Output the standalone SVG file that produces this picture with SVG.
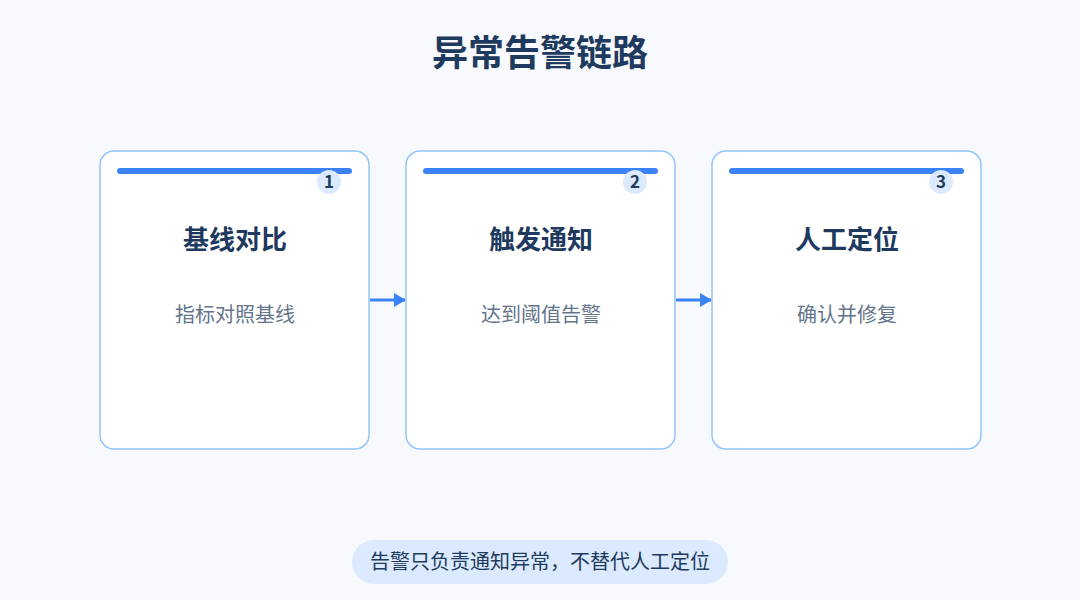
<svg xmlns="http://www.w3.org/2000/svg" width="1080" height="600" viewBox="0 0 1080 600">
<style>
text{font-family:"Noto Sans CJK SC","Noto Sans",sans-serif;text-anchor:middle}
.card{fill:#fff;stroke:#93c5fd;stroke-width:1.5}
.bar{stroke:#3b82f6;stroke-width:6;stroke-linecap:round}
.badge{fill:#dbeafe}
.num{font-size:17px;font-weight:700;fill:#1e3a5f}
.t{font-size:26px;font-weight:700;fill:#1e3a5f}
.s{font-size:20px;fill:#64748b}
.conn{stroke:#3b82f6;stroke-width:3;fill:none}
</style>
<defs><marker id="ah" markerWidth="12" markerHeight="14" refX="11" refY="7" orient="auto" markerUnits="userSpaceOnUse"><path d="M0,0 L12,7 L0,14 z" fill="#3b82f6"/></marker></defs>
<rect width="1080" height="600" fill="#f7f9fc"/>
<text x="540" y="66" style="font-size:36px;font-weight:700;fill:#1e3a5f">异常告警链路</text>
<g id="connectors">
<line class="conn" x1="370" y1="300" x2="405" y2="300" marker-end="url(#ah)"/>
<line class="conn" x1="676" y1="300" x2="711" y2="300" marker-end="url(#ah)"/>
</g>
<g id="node1">
<rect class="card" x="100" y="151" width="269" height="298" rx="14"/>
<line class="bar" x1="120" y1="171" x2="349" y2="171"/>
<circle class="badge" cx="329" cy="182" r="12"/>
<text class="num" x="329" y="188">1</text>
<text class="t" x="235" y="249">基线对比</text>
<text class="s" x="235" y="322">指标对照基线</text>
</g>
<g id="node2">
<rect class="card" x="406" y="151" width="269" height="298" rx="14"/>
<line class="bar" x1="426" y1="171" x2="655" y2="171"/>
<circle class="badge" cx="635" cy="182" r="12"/>
<text class="num" x="635" y="188">2</text>
<text class="t" x="541" y="249">触发通知</text>
<text class="s" x="541" y="322">达到阈值告警</text>
</g>
<g id="node3">
<rect class="card" x="712" y="151" width="269" height="298" rx="14"/>
<line class="bar" x1="732" y1="171" x2="961" y2="171"/>
<circle class="badge" cx="941" cy="182" r="12"/>
<text class="num" x="941" y="188">3</text>
<text class="t" x="847" y="249">人工定位</text>
<text class="s" x="847" y="322">确认并修复</text>
</g>
<g id="note">
<rect x="352" y="540" width="376" height="44" rx="22" fill="#dbeafe"/>
<text x="540" y="569" style="font-size:20px;fill:#1e3a5f">告警只负责通知异常，不替代人工定位</text>
</g>
</svg>
